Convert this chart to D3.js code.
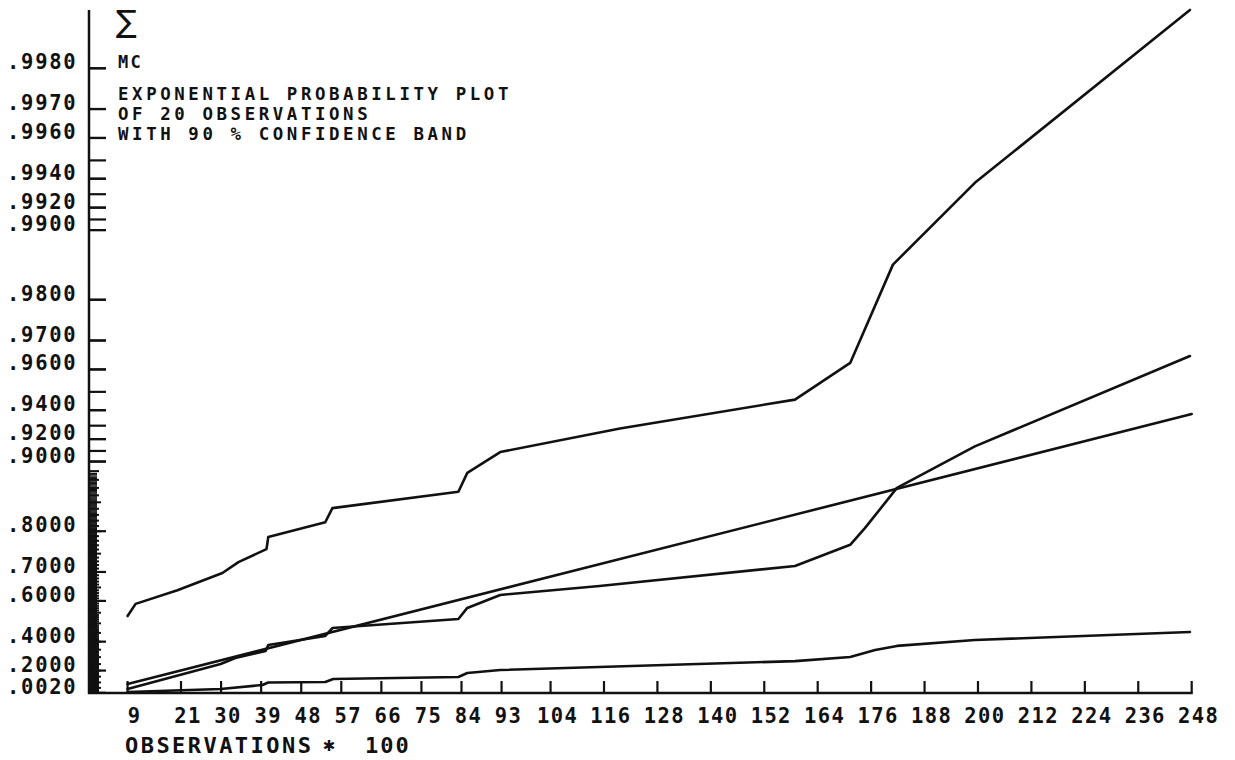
<!DOCTYPE html>
<html><head><meta charset="utf-8">
<script src="https://cdn.jsdelivr.net/npm/d3@7"></script>
<style>body{margin:0;background:#fff}svg{display:block}</style>
</head><body>
<svg id="chart" width="1235" height="760"></svg>
<script>
// ---- data ----
const xTickValues = [9,21,30,39,48,57,66,75,84,93,104,116,128,140,152,164,176,188,200,212,224,236,248];
const yTickLabels = [".0020",".2000",".4000",".6000",".7000",".8000",".9000",".9200",".9400",".9600",".9700",".9800",".9900",".9920",".9940",".9960",".9970",".9980"];
const titleLines = ["EXPONENTIAL PROBABILITY PLOT","OF 20 OBSERVATIONS","WITH 90 % CONFIDENCE BAND"];

const upperX = [9, 10.8, 20.2, 30.3, 33.9, 40.2, 40.6, 53.4, 55.0, 83.3, 85.3, 92.7, 119.6, 158.9, 171.3, 180.9, 199.3, 247.6];
const upperP = [0.535, 0.588, 0.640, 0.697, 0.728, 0.761, 0.788, 0.817, 0.841, 0.865, 0.888, 0.909, 0.928, 0.946, 0.9625, 0.9859, 0.99375, 0.99888];

const sampleX = [9, 29.9, 33.2, 40.0, 40.6, 53.4, 55.0, 83.3, 85.3, 92.7, 115.0, 158.9, 171.3, 174.6, 181.8, 199.3, 247.6];
const sampleP = [0.039, 0.251, 0.294, 0.342, 0.380, 0.433, 0.476, 0.521, 0.571, 0.623, 0.655, 0.7175, 0.771, 0.806, 0.870, 0.914, 0.965];

const fitX = [9, 248];
const fitP = [0.0857, 0.9377];

const lowerX = [9, 29.9, 39.3, 40.6, 53.4, 55.2, 83.3, 85.3, 92.7, 158.9, 171.3, 176.9, 181.8, 199.3, 247.6];
const lowerP = [0.0099, 0.039, 0.0765, 0.0992, 0.1037, 0.130, 0.147, 0.180, 0.2046, 0.272, 0.301, 0.348, 0.374, 0.410, 0.455];

const pTop = 0.99888;

// ---- scales ----
const tr = p => -Math.log(1 - p);
const x = d3.scaleLinear().domain([0, 248]).range([87.5, 1191.7]);
const y = d3.scaleLinear().domain([0, tr(pTop)]).range([693, 10]);
const yp = p => y(tr(p));

const svg = d3.select("#chart");
const FONT = "'DejaVu Sans Mono', monospace";

// ---- y axis ticks ----
const yTickValues = yTickLabels.map(s => +("0" + s));
const ax0 = 89;
const g = svg.append("g").attr("stroke", "#111").attr("fill", "none");

// dense fine ticks
const fine = d3.range(0.001, 0.889, 0.0015);
g.append("g").selectAll("line").data(fine).join("line")
  .attr("x1", ax0 - 1).attr("x2", ax0 + 8)
  .attr("y1", d => yp(d)).attr("y2", d => yp(d))
  .attr("stroke-width", 1.2);
// hundredths ticks
const hund = d3.range(1, 90).map(i => i / 100);
g.append("g").selectAll("line").data(hund).join("line")
  .attr("x1", ax0).attr("x2", d => ax0 + ((Math.round(d*100) % 5 === 0) ? 12 : 10))
  .attr("y1", d => yp(d)).attr("y2", d => yp(d))
  .attr("stroke-width", 2);
// long ticks
const longT = yTickValues
  .concat(d3.range(90, 99).map(i => i / 100))
  .concat(d3.range(990, 999).map(i => i / 1000));
g.append("g").selectAll("line").data(longT).join("line")
  .attr("x1", ax0).attr("x2", ax0 + 17)
  .attr("y1", d => yp(d)).attr("y2", d => yp(d))
  .attr("stroke-width", 2.2);

// axes lines
svg.append("line").attr("x1", ax0).attr("x2", ax0).attr("y1", 10).attr("y2", 694)
  .attr("stroke", "#111").attr("stroke-width", 2.5);
svg.append("line").attr("x1", ax0 - 1).attr("x2", x(248) + 1).attr("y1", 693).attr("y2", 693)
  .attr("stroke", "#111").attr("stroke-width", 2.5);
// x ticks
svg.append("g").selectAll("line").data(xTickValues).join("line")
  .attr("x1", d => x(d)).attr("x2", d => x(d))
  .attr("y1", 693).attr("y2", 681)
  .attr("stroke", "#111").attr("stroke-width", 2.2);

// y labels
svg.append("g").selectAll("text").data(yTickLabels).join("text")
  .attr("x", 7).attr("y", (d, i) => yp(yTickValues[i]) + 1)
  .attr("font-family", FONT).attr("font-weight", "bold")
  .attr("font-size", 20.5).attr("letter-spacing", 1.75)
  .attr("fill", "#111").text(d => d);

// x labels
svg.append("g").selectAll("text").data(xTickValues).join("text")
  .attr("x", d => x(d) + 7).attr("y", 723)
  .attr("text-anchor", "middle")
  .attr("font-family", FONT).attr("font-weight", "bold")
  .attr("font-size", 20.5).attr("letter-spacing", 1.4)
  .attr("fill", "#111").text(d => d);

// x title
const xt = svg.append("g").attr("font-family", FONT).attr("font-weight", "bold").attr("fill", "#111");
xt.append("text").attr("x", 125).attr("y", 753).attr("font-size", 22).attr("letter-spacing", 2.45).text("OBSERVATIONS");
xt.append("text").attr("x", 329).attr("y", 751).attr("text-anchor", "middle")
  .attr("font-family", "'DejaVu Sans'").attr("font-size", 15).text("\u2731");
xt.append("text").attr("x", 365).attr("y", 753).attr("font-size", 22).attr("letter-spacing", 2.0).text("100");

// title block
const tt = svg.append("g").attr("font-family", FONT).attr("font-weight", "bold").attr("fill", "#111");
tt.append("text").attr("x", 116).attr("y", 32).attr("font-family", "'DejaVu Sans'").attr("font-weight", "normal")
  .attr("font-size", 31).text("\u2211");
tt.append("text").attr("x", 118).attr("y", 68).attr("font-size", 17).attr("letter-spacing", 2.2).text("MC");
tt.selectAll("text.t").data(titleLines).join("text").attr("class", "t")
  .attr("x", 118).attr("y", (d, i) => 99.5 + i * 20.3)
  .attr("font-size", 17.4).attr("letter-spacing", 3.6).text(d => d);

// ---- curves ----
const line = d3.line().x(d => x(d[0])).y(d => yp(d[1]));
const series = [
  d3.zip(upperX, upperP),
  d3.zip(sampleX, sampleP),
  d3.zip(fitX, fitP),
  d3.zip(lowerX, lowerP)
];
svg.append("g").selectAll("path").data(series).join("path")
  .attr("d", line).attr("fill", "none").attr("stroke", "#111")
  .attr("stroke-width", 2.6).attr("stroke-linejoin", "round").attr("stroke-linecap", "round");
</script>
</body></html>
